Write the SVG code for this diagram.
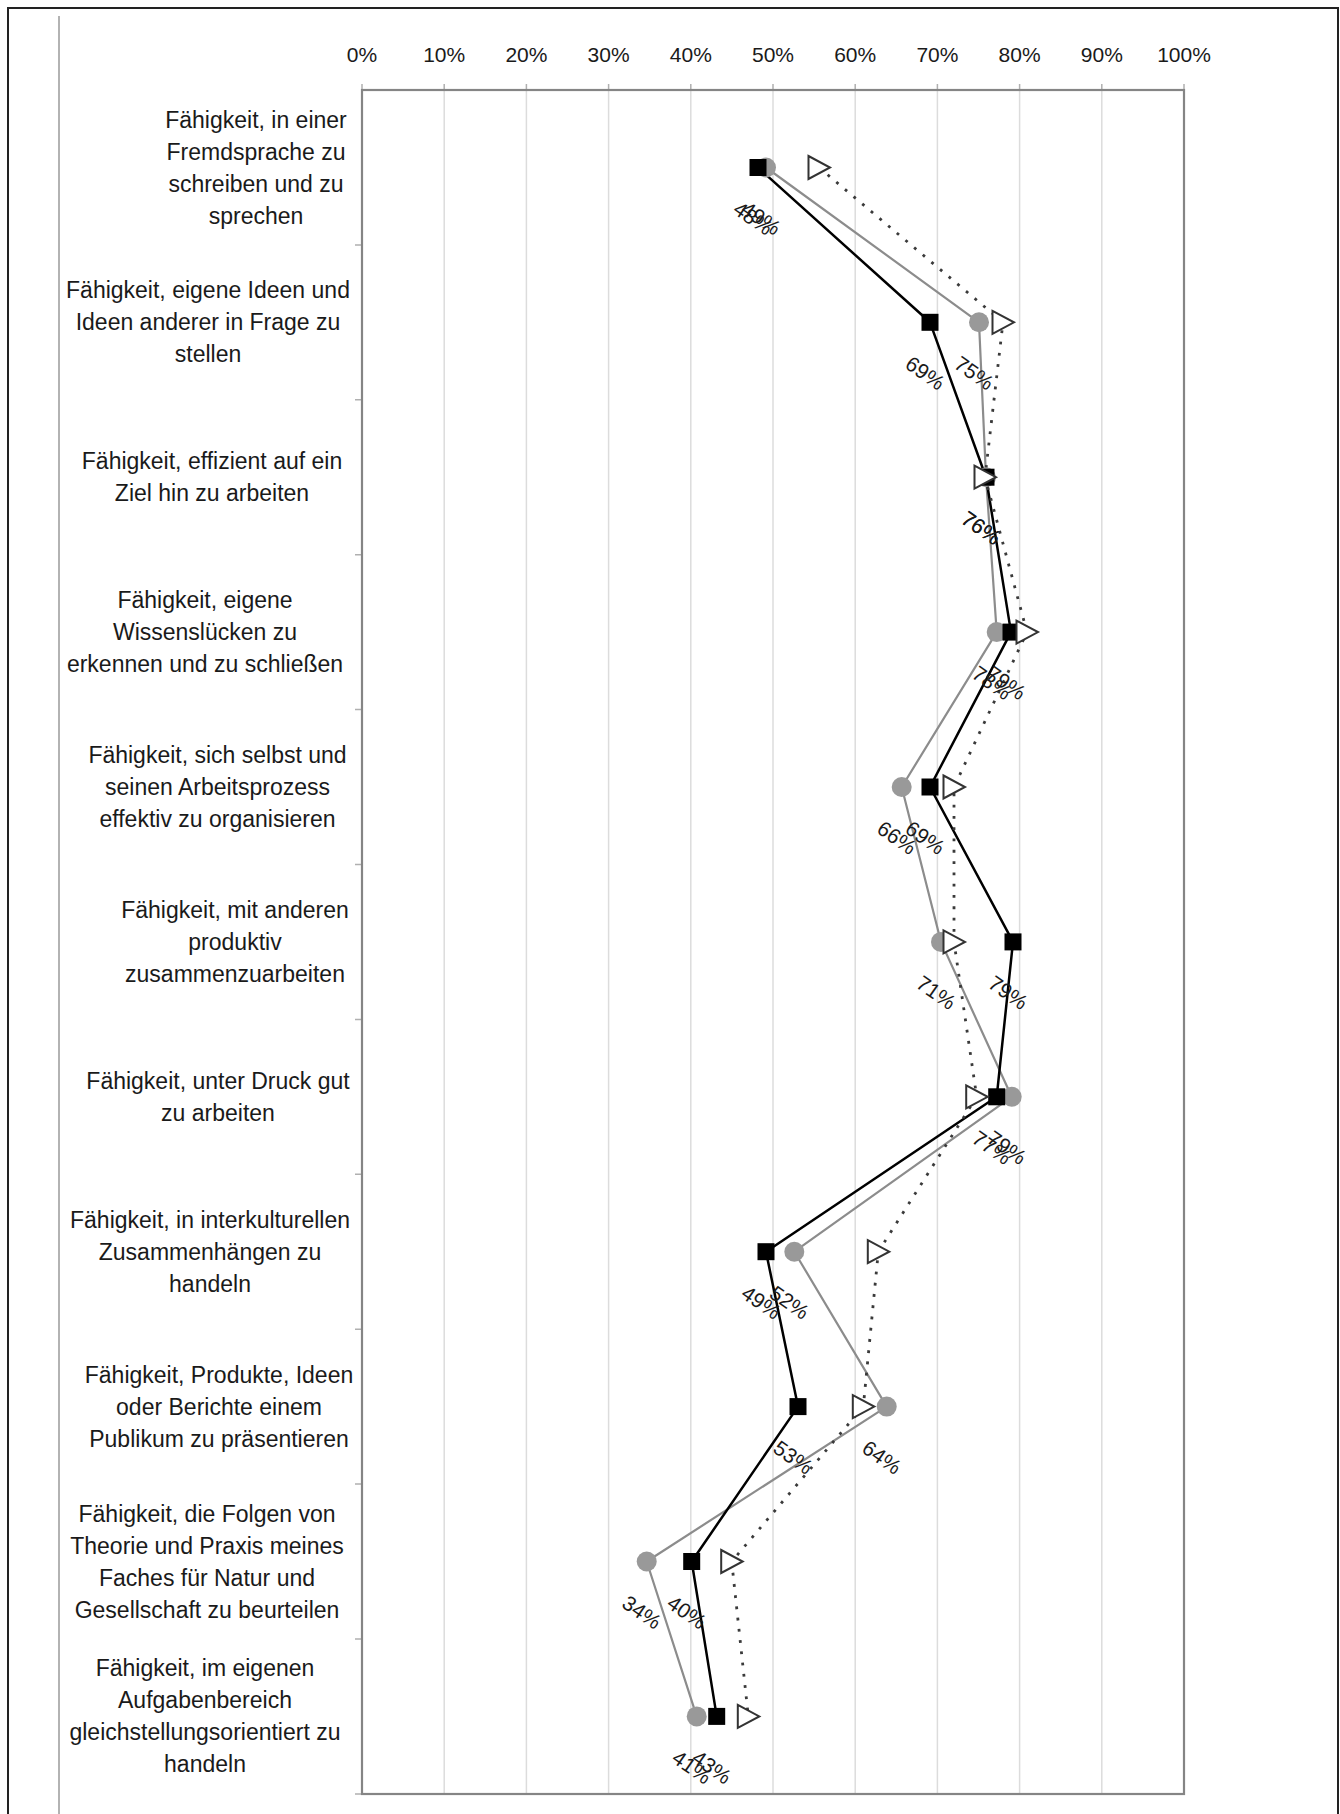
<svg xmlns="http://www.w3.org/2000/svg" width="1340" height="1814" viewBox="0 0 1340 1814">
  <style>
    text { font-family: "Liberation Sans", Arial, sans-serif; fill: #1a1a1a; }
    .cat { font-size: 23px; text-anchor: middle; }
    .pct { font-size: 21px; text-anchor: middle; }
    .dl { font-size: 21px; text-anchor: middle; }
    .grid { stroke: #dcdcdc; stroke-width: 1.5; }
    .tick { stroke: #b0b0b0; stroke-width: 1.5; }
    .plot { fill: none; stroke: #858585; stroke-width: 2.2; }
    .frame { fill: none; stroke: #222; stroke-width: 2; }
    .lineA { fill: none; stroke: #000; stroke-width: 2.5; stroke-linejoin: round; }
    .lineB { fill: none; stroke: #8c8c8c; stroke-width: 2.2; stroke-linejoin: round; }
    .lineC { fill: none; stroke: #3a3a3a; stroke-width: 2.8; stroke-dasharray: 2.8 8.5; }
    .mA { fill: #000; }
    .mB { fill: #999; }
    .mC { fill: #fff; stroke: #333; stroke-width: 2; stroke-linejoin: miter; }
  </style>
  <defs>
    <rect id="sq" x="-8.5" y="-8.5" width="17" height="17"/>
    <circle id="dot" r="10"/>
    <path id="tri" d="M-10.5,-11.5 L11,0 L-10.5,11.5 Z"/>
  </defs>

  <rect width="1340" height="1814" fill="#fff"/>

  <!-- outer frame -->
  <g id="frame">
    <polyline class="frame" points="8,1814 8,8 1338,8 1338,1814"/>
    <line x1="59" y1="16" x2="59" y2="1814" stroke="#9a9a9a" stroke-width="1.5"/>
  </g>

  <!-- value grid and plot border -->
  <g id="grid">
    <line class="grid" x1="444.2" y1="90" x2="444.2" y2="1794"/>
    <line class="grid" x1="526.4" y1="90" x2="526.4" y2="1794"/>
    <line class="grid" x1="608.6" y1="90" x2="608.6" y2="1794"/>
    <line class="grid" x1="690.8" y1="90" x2="690.8" y2="1794"/>
    <line class="grid" x1="773" y1="90" x2="773" y2="1794"/>
    <line class="grid" x1="855.2" y1="90" x2="855.2" y2="1794"/>
    <line class="grid" x1="937.4" y1="90" x2="937.4" y2="1794"/>
    <line class="grid" x1="1019.6" y1="90" x2="1019.6" y2="1794"/>
    <line class="grid" x1="1101.8" y1="90" x2="1101.8" y2="1794"/>
    <!-- ticks above the top axis -->
    <path class="tick" d="M362,84V90 M444.2,84V90 M526.4,84V90 M608.6,84V90 M690.8,84V90 M773,84V90 M855.2,84V90 M937.4,84V90 M1019.6,84V90 M1101.8,84V90 M1184,84V90"/>
    <!-- category boundary ticks on the left axis -->
    <path class="tick" d="M355,244.9H362 M355,399.8H362 M355,554.7H362 M355,709.6H362 M355,864.5H362 M355,1019.4H362 M355,1174.3H362 M355,1329.2H362 M355,1484.1H362 M355,1639H362 M355,1794H362"/>
    <rect class="plot" x="362" y="90" width="822" height="1704"/>
  </g>

  <!-- percentage scale -->
  <g id="scale">
    <text class="pct" x="362" y="62">0%</text>
    <text class="pct" x="444.2" y="62">10%</text>
    <text class="pct" x="526.4" y="62">20%</text>
    <text class="pct" x="608.6" y="62">30%</text>
    <text class="pct" x="690.8" y="62">40%</text>
    <text class="pct" x="773" y="62">50%</text>
    <text class="pct" x="855.2" y="62">60%</text>
    <text class="pct" x="937.4" y="62">70%</text>
    <text class="pct" x="1019.6" y="62">80%</text>
    <text class="pct" x="1101.8" y="62">90%</text>
    <text class="pct" x="1184" y="62">100%</text>
  </g>

  <!-- category labels -->
  <g id="cat1"><text class="cat" x="256" y="127.5">Fähigkeit, in einer<tspan x="256" dy="32">Fremdsprache zu</tspan><tspan x="256" dy="32">schreiben und zu</tspan><tspan x="256" dy="32">sprechen</tspan></text></g>
  <g id="cat2"><text class="cat" x="208" y="298.3">Fähigkeit, eigene Ideen und<tspan x="208" dy="32">Ideen anderer in Frage zu</tspan><tspan x="208" dy="32">stellen</tspan></text></g>
  <g id="cat3"><text class="cat" x="212" y="469.2">Fähigkeit, effizient auf ein<tspan x="212" dy="32">Ziel hin zu arbeiten</tspan></text></g>
  <g id="cat4"><text class="cat" x="205" y="608.1">Fähigkeit, eigene<tspan x="205" dy="32">Wissenslücken zu</tspan><tspan x="205" dy="32">erkennen und zu schließen</tspan></text></g>
  <g id="cat5"><text class="cat" x="217.5" y="763">Fähigkeit, sich selbst und<tspan x="217.5" dy="32">seinen Arbeitsprozess</tspan><tspan x="217.5" dy="32">effektiv zu organisieren</tspan></text></g>
  <g id="cat6"><text class="cat" x="235" y="917.9">Fähigkeit, mit anderen<tspan x="235" dy="32">produktiv</tspan><tspan x="235" dy="32">zusammenzuarbeiten</tspan></text></g>
  <g id="cat7"><text class="cat" x="218" y="1088.8">Fähigkeit, unter Druck gut<tspan x="218" dy="32">zu arbeiten</tspan></text></g>
  <g id="cat8"><text class="cat" x="210" y="1227.7">Fähigkeit, in interkulturellen<tspan x="210" dy="32">Zusammenhängen zu</tspan><tspan x="210" dy="32">handeln</tspan></text></g>
  <g id="cat9"><text class="cat" x="219" y="1382.6">Fähigkeit, Produkte, Ideen<tspan x="219" dy="32">oder Berichte einem</tspan><tspan x="219" dy="32">Publikum zu präsentieren</tspan></text></g>
  <g id="cat10"><text class="cat" x="207" y="1521.5">Fähigkeit, die Folgen von<tspan x="207" dy="32">Theorie und Praxis meines</tspan><tspan x="207" dy="32">Faches für Natur und</tspan><tspan x="207" dy="32">Gesellschaft zu beurteilen</tspan></text></g>
  <g id="cat11"><text class="cat" x="205" y="1676.4">Fähigkeit, im eigenen<tspan x="205" dy="32">Aufgabenbereich</tspan><tspan x="205" dy="32">gleichstellungsorientiert zu</tspan><tspan x="205" dy="32">handeln</tspan></text></g>

  <!-- series lines -->
  <g id="connectors">
    <polyline class="lineB" points="766,167.5 979,322.3 986,477.2 996.7,632.1 901.7,787 941,941.9 1011.7,1096.8 794.3,1251.7 886.7,1406.6 646.7,1561.5 696.7,1716.4"/>
    <polyline class="lineA" points="758,167.5 930,322.3 986,477.2 1011,632.1 930,787 1013,941.9 996.7,1096.8 766,1251.7 798,1406.6 691.7,1561.5 716.7,1716.4"/>
    <polyline class="lineC" points="819,167.5 1003,322.3 985,477.2 1027,632.1 954,787 954,941.9 976.7,1096.8 878.3,1251.7 863.3,1406.6 731.7,1561.5 748.3,1716.4"/>
  </g>

  <!-- gray circle series -->
  <g id="seriesB" class="mB">
    <use href="#dot" x="766" y="167.5"/>
    <use href="#dot" x="979" y="322.3"/>
    <use href="#dot" x="986" y="477.2"/>
    <use href="#dot" x="996.7" y="632.1"/>
    <use href="#dot" x="901.7" y="787"/>
    <use href="#dot" x="941" y="941.9"/>
    <use href="#dot" x="1011.7" y="1096.8"/>
    <use href="#dot" x="794.3" y="1251.7"/>
    <use href="#dot" x="886.7" y="1406.6"/>
    <use href="#dot" x="646.7" y="1561.5"/>
    <use href="#dot" x="696.7" y="1716.4"/>
  </g>

  <!-- black square series -->
  <g id="seriesA" class="mA">
    <use href="#sq" x="758" y="167.5"/>
    <use href="#sq" x="930" y="322.3"/>
    <use href="#sq" x="986" y="477.2"/>
    <use href="#sq" x="1011" y="632.1"/>
    <use href="#sq" x="930" y="787"/>
    <use href="#sq" x="1013" y="941.9"/>
    <use href="#sq" x="996.7" y="1096.8"/>
    <use href="#sq" x="766" y="1251.7"/>
    <use href="#sq" x="798" y="1406.6"/>
    <use href="#sq" x="691.7" y="1561.5"/>
    <use href="#sq" x="716.7" y="1716.4"/>
  </g>

  <!-- open triangle series -->
  <g id="seriesC" class="mC">
    <use href="#tri" x="819" y="167.5"/>
    <use href="#tri" x="1003" y="322.3"/>
    <use href="#tri" x="985" y="477.2"/>
    <use href="#tri" x="1027" y="632.1"/>
    <use href="#tri" x="954" y="787"/>
    <use href="#tri" x="954" y="941.9"/>
    <use href="#tri" x="976.7" y="1096.8"/>
    <use href="#tri" x="878.3" y="1251.7"/>
    <use href="#tri" x="863.3" y="1406.6"/>
    <use href="#tri" x="731.7" y="1561.5"/>
    <use href="#tri" x="748.3" y="1716.4"/>
  </g>

  <!-- data labels -->
  <g id="labelsB">
    <text class="dl" dy="7" transform="translate(761,218.5) rotate(35)">49%</text>
    <text class="dl" dy="7" transform="translate(974,373.3) rotate(35)">75%</text>
    <text class="dl" dy="7" transform="translate(981,528.2) rotate(35)">76%</text>
    <text class="dl" dy="7" transform="translate(991.7,683.1) rotate(35)">78%</text>
    <text class="dl" dy="7" transform="translate(896.7,838) rotate(35)">66%</text>
    <text class="dl" dy="7" transform="translate(936,992.9) rotate(35)">71%</text>
    <text class="dl" dy="7" transform="translate(1006.7,1147.8) rotate(35)">79%</text>
    <text class="dl" dy="7" transform="translate(789.3,1302.7) rotate(35)">52%</text>
    <text class="dl" dy="7" transform="translate(881.7,1457.6) rotate(35)">64%</text>
    <text class="dl" dy="7" transform="translate(641.7,1612.5) rotate(35)">34%</text>
    <text class="dl" dy="7" transform="translate(691.7,1767.4) rotate(35)">41%</text>
  </g>
  <g id="labelsA">
    <text class="dl" dy="7" transform="translate(753,218.5) rotate(35)">48%</text>
    <text class="dl" dy="7" transform="translate(925,373.3) rotate(35)">69%</text>
    <text class="dl" dy="7" transform="translate(981,528.2) rotate(35)">76%</text>
    <text class="dl" dy="7" transform="translate(1006,683.1) rotate(35)">79%</text>
    <text class="dl" dy="7" transform="translate(925,838) rotate(35)">69%</text>
    <text class="dl" dy="7" transform="translate(1008,992.9) rotate(35)">79%</text>
    <text class="dl" dy="7" transform="translate(991.7,1147.8) rotate(35)">77%</text>
    <text class="dl" dy="7" transform="translate(761,1302.7) rotate(35)">49%</text>
    <text class="dl" dy="7" transform="translate(793,1457.6) rotate(35)">53%</text>
    <text class="dl" dy="7" transform="translate(686.7,1612.5) rotate(35)">40%</text>
    <text class="dl" dy="7" transform="translate(711.7,1767.4) rotate(35)">43%</text>
  </g>
</svg>
